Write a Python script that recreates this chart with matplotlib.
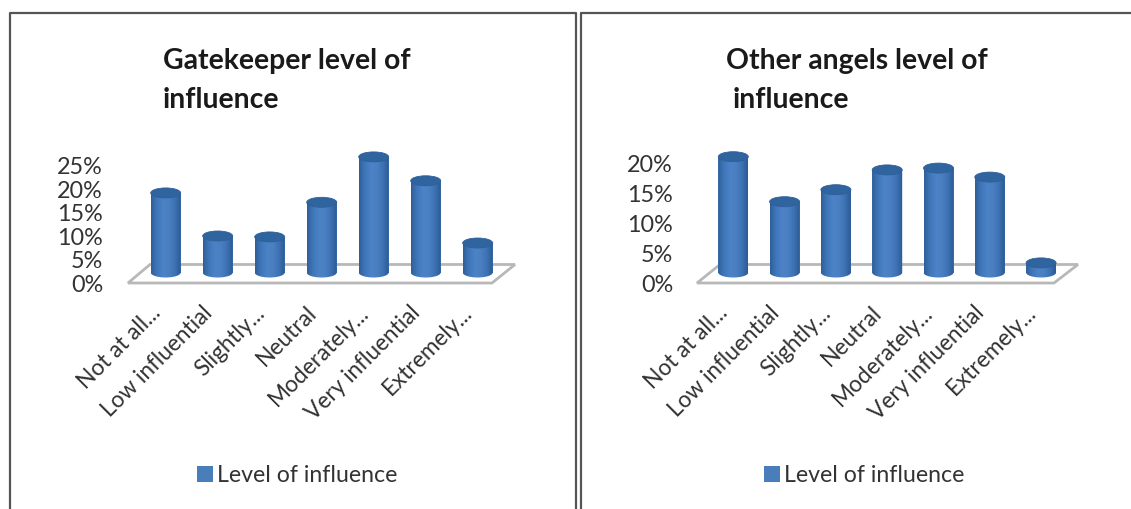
import numpy as np
import matplotlib
matplotlib.use('Agg')
import matplotlib.pyplot as plt
from matplotlib.lines import Line2D
from matplotlib.patches import Ellipse, Polygon, PathPatch
from matplotlib.path import Path
from matplotlib.colors import LinearSegmentedColormap
from matplotlib.transforms import ScaledTranslation

plt.rcParams['font.family'] = ['Lato', 'DejaVu Sans']

categories = ['Not at all...', 'Low influential', 'Slightly...', 'Neutral', 'Moderately...', 'Very influential', 'Extremely...']
gatekeeper = [17.0, 7.8, 7.6, 15.0, 24.7, 19.6, 6.3]
other_angels = [19.3, 11.8, 13.8, 17.1, 17.4, 15.9, 1.6]
gatekeeper_ticks = [0, 5, 10, 15, 20, 25]
other_ticks = [0, 5, 10, 15, 20]

W, H = 1131, 509
TEXT = '#333333'
FRAME = '#555555'
body_cmap = LinearSegmentedColormap.from_list('cyl', ['#2f5f9a', '#4077ba', '#4c83c6', '#4a80c2', '#3d72b3', '#2d5a94'])

fig = plt.figure(figsize=(W / 100, H / 100), dpi=100, facecolor='white')


def fx(px):
    return px / W


def fy(py):
    return 1 - py / H


def cylinders(ax, values, width, cap):
    bars = ax.bar(range(len(values)), values, width, color='#4a7ebb', label='Level of influence', zorder=2)
    for b in bars:
        x0, x1 = b.get_x(), b.get_x() + b.get_width()
        xc, top = (x0 + x1) / 2, b.get_height()
        # body with a rounded bottom, the gradient gets clipped to it
        t = np.linspace(np.pi, 2 * np.pi, 30)
        pts = [(x0, top)] + list(zip(xc + width / 2 * np.cos(t), cap / 2 * np.sin(t))) + [(x1, top), (x0, top)]
        clip = PathPatch(Path(pts), transform=ax.transData, fc='none', ec='none')
        ax.add_patch(clip)
        im = ax.imshow(np.linspace(0, 1, 64)[None, :], cmap=body_cmap, extent=(x0, x1, -cap, top), aspect='auto', zorder=3)
        im.set_clip_path(clip)
        ax.add_patch(Ellipse((xc, top), width, cap, fc='#30649f', ec='#2f5f9a', lw=0.6, zorder=4))


def panel(values, ticks, title1, title2, tx1, tx2, left, right, x0, step, scale, floor, leg_x):
    ax = fig.add_axes([fx(left), fy(283), fx(right - left), (283 - 140) / H])
    base_py = 272.5
    ax.set_zorder(2)
    ax.patch.set_alpha(0)
    for s in ax.spines.values():
        s.set_visible(False)
    # gray floor of the 3D box
    fig.add_artist(Polygon([(fx(a), fy(b)) for a, b in floor], closed=True, fc='white', ec='#b8b8b8', lw=2,
                           transform=fig.transFigure, zorder=1))
    width = 30 / step
    cap = 10 / scale
    cylinders(ax, values, width, cap)
    ax.set_xlim((left - x0) / step, (right - x0) / step)
    ax.set_ylim(-(283 - base_py) / scale, (base_py - 140) / scale)
    ax.set_yticks(ticks)
    ax.set_yticklabels([f'{t}%' for t in ticks], fontsize=16.8, color=TEXT)
    ax.tick_params(axis='both', length=0, pad=0)
    for lab in ax.get_yticklabels():
        lab.set_transform(lab.get_transform() + ScaledTranslation(0, -10.5 / 100, fig.dpi_scale_trans))
    ax.set_xticks(range(len(values)))
    ax.set_xticklabels(categories, rotation=45, ha='right', va='top', rotation_mode='anchor', fontsize=16.3, color=TEXT)
    for lab in ax.get_xticklabels():
        lab.set_transform(lab.get_transform() + ScaledTranslation(-16 / 100, -19 / 100, fig.dpi_scale_trans))
    fig.text(fx(tx1), fy(61), title1, fontsize=20.4, fontweight='bold', color='#1a1a1a', va='center')
    fig.text(fx(tx2), fy(100), title2, fontsize=20.4, fontweight='bold', color='#1a1a1a', va='center')
    ax.legend(loc='center left', bbox_to_anchor=(fx(leg_x), fy(476)), bbox_transform=fig.transFigure, frameon=False,
              fontsize=16.7, handlelength=0.69, handleheight=0.69, handletextpad=0.18, borderpad=0, borderaxespad=0,
              labelcolor=TEXT)


panel(gatekeeper, gatekeeper_ticks, 'Gatekeeper level of', 'influence', 163, 163, 103, 516, 165.7, 52.0, 4.68,
      [(128, 283), (150, 264.5), (515, 264.5), (492, 283)], 197)
panel(other_angels, other_ticks, 'Other angels level of', 'influence', 726, 733, 673, 1080, 733.3, 51.3, 6.0,
      [(697, 283), (720, 264.5), (1078, 264.5), (1054, 283)], 764)

# screenshot frames around the two charts
for xs, ys in [([10, 10, 576, 576], [509, 13, 13, 509]), ([581, 581, 1131], [509, 13, 13])]:
    fig.add_artist(Line2D([fx(a) for a in xs], [fy(b) for b in ys], color=FRAME, lw=1.6, transform=fig.transFigure))

fig.savefig('out.png', dpi=100)
